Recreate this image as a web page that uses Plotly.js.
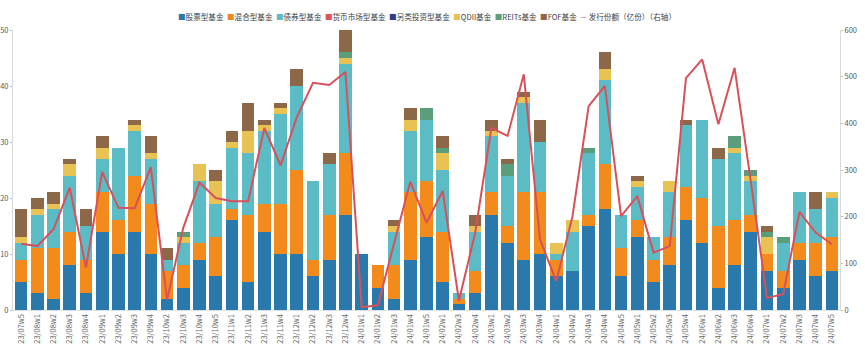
<!DOCTYPE html>
<html>
<head>
<meta charset="utf-8">
<script src="https://cdn.plot.ly/plotly-3.0.1.min.js"></script>
<style>html,body{margin:0;padding:0;background:#fff;}#chart{width:865px;height:355px;}</style>
</head>
<body>
<div id="chart"></div>
<script>
const categories = ['23/07w5','23/08w1','23/08w2','23/08w3','23/08w4','23/09w1','23/09w2','23/09w3','23/09w4','23/10w2','23/10w3','23/10w4','23/10w5','23/11w1','23/11w2','23/11w3','23/11w4','23/12w1','23/12w2','23/12w3','23/12w4','24/01w1','24/01w2','24/01w3','24/01w4','24/01w5','24/02w1','24/02w3','24/02w4','24/03w1','24/03w2','24/03w3','24/03w4','24/04w1','24/04w2','24/04w3','24/04w4','24/04w5','24/05w1','24/05w2','24/05w3','24/05w4','24/06w1','24/06w2','24/06w3','24/06w4','24/07w1','24/07w2','24/07w3','24/07w4','24/07w5'];

const stockFund  = [5,3,2,8,3,14,10,14,10,2,4,9,6,16,5,14,10,10,6,9,17,10,4,2,9,13,5,1,3,17,12,9,10,6,7,15,18,6,13,5,8,16,12,4,8,14,7,4,9,6,7];
const mixedFund  = [4,8,9,6,6,7,6,10,9,5,4,3,7,2,12,5,9,15,3,8,11,0,4,6,12,10,9,1,4,4,3,12,11,3,0,2,8,5,3,4,5,6,8,11,8,3,3,3,3,6,6];
const bondFund   = [3,6,7,10,6,6,13,8,8,2,4,11,6,11,11,13,16,15,14,9,16,0,0,6,11,11,11,1,7,10,9,16,9,1,7,11,15,6,6,4,8,11,14,12,12,6,0,5,9,6,7];
const moneyFund  = [0,0,0,0,0,0,0,0,0,0,0,0,0,0,0,0,0,0,0,0,0,0,0,0,0,0,0,0,0,0,0,0,0,0,0,0,0,0,0,0,0,0,0,0,0,0,0,0,0,0,0];
const altFund    = [0,0,0,0,0,0,0,0,0,0,0,0,0,0,0,0,0,0,0,0,0,0,0,0,0,0,0,0,0,0,0,0,0,0,0,0,0,0,0,0,0,0,0,0,0,0,0,0,0,0,0];
const qdiiFund   = [1,1,1,2,0,2,0,1,1,0,1,3,4,1,4,1,1,0,0,0,1,0,0,1,2,0,3,0,1,1,0,1,0,2,2,0,2,0,1,0,2,0,0,0,1,1,3,0,0,0,1];
const reitsFund  = [0,0,0,0,0,0,0,0,0,0,1,0,0,0,0,0,0,0,0,0,1,0,0,0,0,2,1,0,0,0,2,0,0,0,0,1,0,0,0,0,0,0,0,0,2,1,1,1,0,0,0];
const fofFund    = [5,2,2,1,3,2,0,1,3,2,0,0,2,2,5,1,1,3,0,2,4,0,0,1,2,0,2,0,2,2,1,1,4,0,0,0,3,0,1,0,0,1,0,2,0,0,1,0,0,3,0];
const issueShare = [142,137,173,262,91,296,219,218,306,22,176,273,240,233,233,390,310,413,487,482,510,6,10,140,275,187,255,20,165,390,373,505,151,62,200,437,480,201,244,123,137,497,537,398,519,275,26,34,210,166,141];

const seriesNames = ['股票型基金','混合型基金','债券型基金','货币市场型基金','另类投资型基金','QDII基金','REITs基金','FOF基金'];
const seriesColors = ['#2a79ad','#f38b1c','#5bbcc5','#e0545a','#2f3b8c','#e8c354','#5b9e7c','#8c6748'];
const seriesData = [stockFund, mixedFund, bondFund, moneyFund, altFund, qdiiFund, reitsFund, fofFund];
const lineName = '发行份额（亿份）（右轴）';
const lineColor = '#d9505a';

const traces = seriesData.map((d, i) => ({
  type: 'bar', x: categories, y: d, name: seriesNames[i],
  marker: {color: seriesColors[i], line: {width: 0}},
  showlegend: false, hoverinfo: 'x+y+name'
}));
traces.push({
  type: 'scatter', mode: 'lines', x: categories, y: issueShare, name: lineName,
  yaxis: 'y2', line: {color: lineColor, width: 2}, showlegend: false
});

let legendText = seriesNames.map((n, i) =>
  `<span style="color:${seriesColors[i]}">■</span>${n}`).join('  ');
legendText += `  <span style="color:${lineColor}">—</span> ${lineName}`;

const layout = {
  width: 865, height: 355,
  margin: {l: 13, r: 25, t: 30, b: 45, pad: 0},
  paper_bgcolor: '#ffffff', plot_bgcolor: '#ffffff',
  font: {family: '"Noto Sans CJK SC", "Noto Sans", sans-serif', color: '#595959', size: 8},
  barmode: 'stack', bargap: 0.22,
  showlegend: false,
  xaxis: {
    type: 'category', tickangle: -90, tickfont: {size: 7.5, color: '#6b6b6b'},
    showgrid: false, showline: true, linecolor: '#e0e0e0', linewidth: 1,
    ticks: '', automargin: false
  },
  yaxis: {
    range: [0, 50], dtick: 10, showgrid: false, zeroline: false,
    showline: true, linecolor: '#d9d9d9', ticks: 'outside', ticklen: 2, tickcolor: '#bfbfbf',
    tickfont: {size: 7.5, color: '#595959'}, automargin: false
  },
  yaxis2: {
    overlaying: 'y', side: 'right', range: [0, 600], dtick: 100, showgrid: false, zeroline: false,
    showline: true, linecolor: '#d9d9d9', ticks: 'outside', ticklen: 2, tickcolor: '#bfbfbf',
    tickfont: {size: 7.5, color: '#595959'}, automargin: false
  },
  annotations: [{
    xref: 'paper', yref: 'paper', x: 0.5, y: 1, yshift: 14, xanchor: 'center', yanchor: 'middle',
    showarrow: false, text: legendText, font: {size: 7.6, color: '#404040'}
  }]
};

Plotly.newPlot('chart', traces, layout, {displayModeBar: false, staticPlot: true});
</script>
</body>
</html>
